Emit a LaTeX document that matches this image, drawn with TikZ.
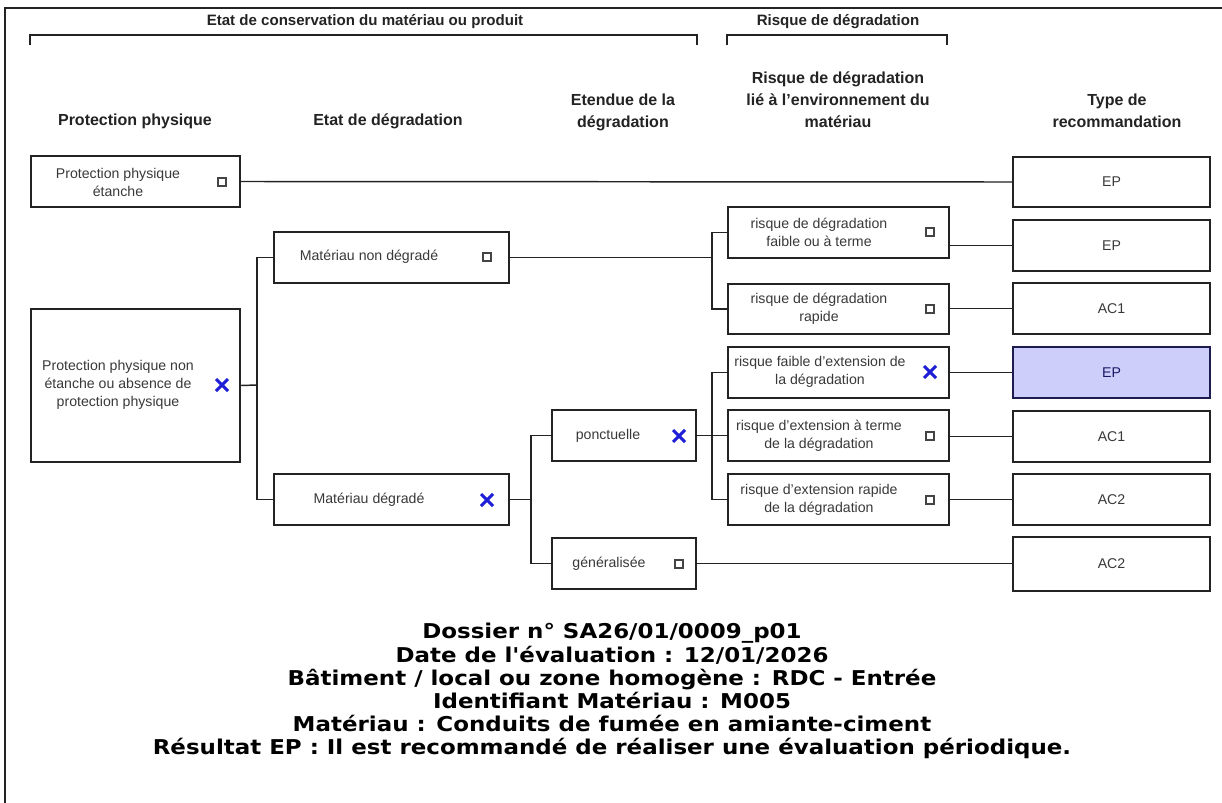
\documentclass[tikz,border=0pt]{standalone}
\usepackage{fontspec}
\setmainfont{Liberation Sans}
\newfontfamily\botfont[FakeStretch=1.125]{DejaVu Sans}
\usetikzlibrary{fit}
\definecolor{hl}{RGB}{206,206,250}
\definecolor{xblue}{RGB}{30,30,215}
\definecolor{ink}{RGB}{35,35,35}
\tikzset{
  box/.style={draw=ink, line width=1.4pt, inner sep=0pt},
  btxt/.style={font=\fontsize{10.6}{13.5}\selectfont, text=ink!90, align=center, inner sep=0pt},
  hdr/.style={font=\fontsize{12}{16.5}\selectfont\bfseries, text=ink, align=center, inner sep=0pt},
  ttl/.style={font=\fontsize{11.3}{13}\selectfont\bfseries, text=ink, align=center, inner sep=0pt},
  bot/.style={font=\botfont\fontsize{15.3}{17.3}\selectfont\bfseries, text=black, align=center, inner sep=0pt},
  conn/.style={draw=ink, line width=1.1pt},
  chk/.style={draw=ink!85, line width=0.8pt, minimum size=6pt, inner sep=0pt},
  xmk/.style={draw=xblue, line width=2.3pt},
}
\newcommand{\xmark}[2]{\draw[xmk] (#1-6,#2-6) -- (#1+6,#2+6); \draw[xmk] (#1-6,#2+6) -- (#1+6,#2-6);}
\begin{document}
\begin{tikzpicture}[x=0.75pt, y=-0.75pt]
\useasboundingbox (0,0) rectangle (1222,803);
\fill[white] (0,0) rectangle (1222,803);
% frame
\draw[draw=ink, line width=1.2pt] (5,803) -- (5,8) -- (1222,8);
% brackets
\node[ttl] (b1) at (365,22) {Etat de conservation du matériau ou produit};
\draw[conn] (30,45) -- (30,35) -- (697,35) -- (697,45);
\node[ttl] (b2) at (838,22) {Risque de dégradation};
\draw[conn] (727,45) -- (727,35) -- (947,35) -- (947,45);
% column headers
\node[hdr] (h1) at (135,121) {Protection physique};
\node[hdr] (h2) at (388,121) {Etat de dégradation};
\node[hdr] (h3) at (623,112) {Etendue de la\\dégradation};
\node[hdr] (h4) at (838,100) {Risque de dégradation\\lié à l'environnement du\\matériau};
\node[hdr] (h5) at (1117,111) {Type de\\recommandation};
% boxes column 1
\node[box, fit={(31,156) (240,207)}] (ppe) {};
\node[btxt] (ppet) at (118,182) {Protection physique\\étanche};
\node[chk] (ppec) at (222,182) {};
\node[box, fit={(31,309) (240,462)}] (ppne) {};
\node[btxt] (ppnet) at (118,385) {Protection physique non\\étanche ou absence de\\protection physique};
\xmark{222}{385}
% column 2
\node[box, fit={(274,232) (509,283)}] (mnd) {};
\node[btxt] (mndt) at (369,257) {Matériau non dégradé};
\node[chk] (mndc) at (487,257) {};
\node[box, fit={(274,474) (509,525)}] (md) {};
\node[btxt] (mdt) at (369,500) {Matériau dégradé};
\xmark{487}{500}
% column 3
\node[box, fit={(552,410) (696,461)}] (pon) {};
\node[btxt] (pont) at (608,436) {ponctuelle};
\xmark{679}{436}
\node[box, fit={(552,538) (696,589)}] (gen) {};
\node[btxt] (gent) at (609,564) {généralisée};
\node[chk] (genc) at (679,564) {};
% column 4
\node[box, fit={(728,207) (949,258)}] (r1) {};
\node[btxt] (r1t) at (819,232) {risque de dégradation\\faible ou à terme};
\node[chk] (r1c) at (930,232) {};
\node[box, fit={(728,284) (949,334)}] (r2) {};
\node[btxt] (r2t) at (819,309) {risque de dégradation\\rapide};
\node[chk] (r2c) at (930,309) {};
\node[box, fit={(728,347) (949,398)}] (r3) {};
\node[btxt] (r3t) at (820,372) {risque faible d'extension de\\la dégradation};
\xmark{930}{372}
\node[box, fit={(728,410) (949,461)}] (r4) {};
\node[btxt] (r4t) at (819,436) {risque d'extension à terme\\de la dégradation};
\node[chk] (r4c) at (930,436) {};
\node[box, fit={(728,474) (949,525)}] (r5) {};
\node[btxt] (r5t) at (819,500) {risque d'extension rapide\\de la dégradation};
\node[chk] (r5c) at (930,500) {};
% column 5
\node[box, fit={(1013,157) (1210,207)}, label={[btxt]center:EP}] (t1) {};
\node[box, fit={(1013,220) (1210,271)}, label={[btxt]center:EP}] (t2) {};
\node[box, fit={(1013,283) (1210,334)}, label={[btxt]center:AC1}] (t3) {};
\node[box, fill=hl, draw=ink!80!blue, fit={(1013,347) (1210,398)}, label={[btxt, text=ink!70!blue]center:EP}] (t4) {};
\node[box, fit={(1013,411) (1210,462)}, label={[btxt]center:AC1}] (t5) {};
\node[box, fit={(1013,474) (1210,525)}, label={[btxt]center:AC2}] (t6) {};
\node[box, fit={(1013,537) (1210,591)}, label={[btxt]center:AC2}] (t7) {};
% connectors
\draw[conn] (ppe.east) -- (t1.west);
\coordinate (j1) at (257,385);
\draw[conn] (ppne.east) -- (j1);
\draw[conn] (mnd.west) -| (j1);
\draw[conn] (md.west) -| (j1);
\coordinate (j2) at (712,257.5);
\draw[conn] (mnd.east) -- (j2);
\draw[conn] (r1.west) -| (j2);
\draw[conn] (r2.west) -| (j2);
\coordinate (j3) at (531,499.5);
\draw[conn] (md.east) -- (j3);
\draw[conn] (pon.west) -| (j3);
\draw[conn] (gen.west) -| (j3);
\coordinate (j4) at (712,435.5);
\draw[conn] (pon.east) -- (j4);
\draw[conn] (r3.west) -| (j4);
\draw[conn] (r4.west) -| (j4);
\draw[conn] (r5.west) -| (j4);
\draw[conn] (t2.west) -- (t2.west -| r1.east);
\draw[conn] (t3.west) -- (t3.west -| r2.east);
\draw[conn] (t4.west) -- (t4.west -| r3.east);
\draw[conn] (t5.west) -- (t5.west -| r4.east);
\draw[conn] (t6.west) -- (t6.west -| r5.east);
\draw[conn] (gen.east) -- (gen.east -| t7.west);
% bottom text
\node[bot] (info) at (612,691) {Dossier n° SA26/01/0009\_p01\\Date de l'évaluation : 12/01/2026\\Bâtiment / local ou zone homogène : RDC - Entrée\\Identifiant Matériau : M005\\Matériau : Conduits de fumée en amiante-ciment\\Résultat EP : Il est recommandé de réaliser une évaluation périodique.};
\end{tikzpicture}
\end{document}
